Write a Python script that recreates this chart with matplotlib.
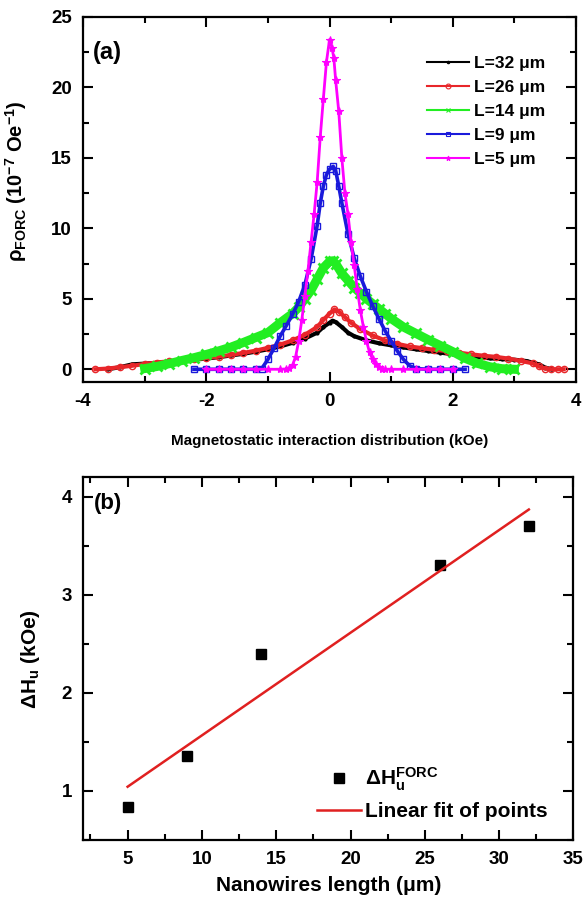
import matplotlib
matplotlib.use("Agg")
import matplotlib.pyplot as plt
import numpy as np
from matplotlib.ticker import MultipleLocator

plt.rcParams['font.family'] = ['Liberation Sans', 'DejaVu Sans']
plt.rcParams['font.weight'] = 'bold'
plt.rcParams['axes.unicode_minus'] = False
plt.rcParams['mathtext.fontset'] = 'custom'
plt.rcParams['mathtext.rm'] = 'Liberation Sans:bold'
plt.rcParams['mathtext.bf'] = 'Liberation Sans:bold'
plt.rcParams['mathtext.it'] = 'Liberation Sans:bold:italic'
plt.rcParams['mathtext.default'] = 'rm'

# ---------------- Panel (a) data ----------------
x32 = [-3.6, -3.4, -3.2, -3.0, -2.8, -2.6, -2.4, -2.2, -2.0, -1.8, -1.6, -1.4, -1.2, -1.0,
       -0.8, -0.6, -0.4, -0.2, -0.1, 0.0, 0.05, 0.1, 0.2, 0.3, 0.4, 0.6, 0.8, 1.0, 1.2, 1.4,
       1.6, 1.8, 2.0, 2.2, 2.4, 2.6, 2.8, 3.0, 3.2, 3.4, 3.5, 3.6]
y32 = [0.0, 0.15, 0.35, 0.4, 0.46, 0.52, 0.6, 0.68, 0.76, 0.86, 0.98, 1.1, 1.25, 1.42,
       1.62, 1.88, 2.18, 2.6, 3.0, 3.3, 3.45, 3.35, 3.0, 2.6, 2.35, 2.05, 1.85, 1.7, 1.55, 1.42,
       1.3, 1.18, 1.07, 0.96, 0.86, 0.78, 0.72, 0.68, 0.58, 0.35, 0.12, 0.0]

x26 = [-3.8, -3.6, -3.4, -3.2, -3.0, -2.8, -2.6, -2.4, -2.2, -2.0, -1.8, -1.6, -1.4, -1.2,
       -1.0, -0.8, -0.6, -0.4, -0.2, -0.1, 0.0, 0.08, 0.15, 0.25, 0.35, 0.5, 0.7, 0.9, 1.1,
       1.3, 1.5, 1.7, 1.9, 2.1, 2.3, 2.5, 2.7, 2.9, 3.1, 3.3, 3.4, 3.5, 3.6, 3.7, 3.8]
y26 = [0.0, 0.05, 0.15, 0.25, 0.38, 0.48, 0.57, 0.65, 0.72, 0.8, 0.9, 1.02, 1.16, 1.32,
       1.52, 1.75, 2.05, 2.45, 3.0, 3.5, 3.95, 4.25, 4.1, 3.7, 3.3, 2.85, 2.4, 2.05, 1.8,
       1.62, 1.5, 1.38, 1.3, 1.18, 1.06, 0.96, 0.88, 0.76, 0.6, 0.42, 0.2, 0.05, 0.0, 0.0, 0.0]

x14 = [-3.0, -2.8, -2.6, -2.4, -2.2, -2.0, -1.8, -1.6, -1.4, -1.2, -1.0, -0.8, -0.6, -0.5,
       -0.4, -0.3, -0.2, -0.1, 0.0, 0.05, 0.1, 0.2, 0.3, 0.4, 0.5, 0.6, 0.7, 0.8, 0.9, 1.0,
       1.2, 1.4, 1.6, 1.8, 2.0, 2.2, 2.4, 2.6, 2.8, 3.0]
y14 = [0.05, 0.2, 0.4, 0.62, 0.82, 1.05, 1.3, 1.57, 1.9, 2.25, 2.6, 3.3, 3.95, 4.4,
       5.0, 5.6, 6.4, 7.2, 7.65, 7.7, 7.5, 6.8, 6.3, 5.8, 5.4, 5.0, 4.65, 4.3, 3.95, 3.6,
       3.0, 2.55, 2.1, 1.68, 1.25, 0.78, 0.42, 0.18, 0.04, 0.0]

x9 = [-2.2, -2.0, -1.8, -1.6, -1.4, -1.2, -1.1, -1.0, -0.9, -0.8, -0.7, -0.6, -0.5, -0.4,
      -0.3, -0.2, -0.15, -0.1, -0.05, 0.0, 0.06, 0.1, 0.15, 0.2, 0.3, 0.4, 0.5, 0.6, 0.7,
      0.8, 0.9, 1.0, 1.1, 1.2, 1.3, 1.4, 1.6, 1.8, 2.0, 2.2]
y9 = [0.0, 0.0, 0.0, 0.0, 0.0, 0.0, 0.05, 0.7, 1.5, 2.36, 3.1, 3.9, 4.8, 6.0,
      7.8, 10.2, 11.8, 13.0, 13.8, 14.2, 14.4, 14.1, 13.0, 11.8, 9.6, 7.9, 6.6, 5.5, 4.5,
      3.6, 2.75, 2.0, 1.3, 0.7, 0.25, 0.05, 0.0, 0.0, 0.0, 0.0]

x5 = [-2.0, -1.8, -1.6, -1.4, -1.2, -1.0, -0.8, -0.7, -0.65, -0.6, -0.55, -0.5, -0.45,
      -0.4, -0.35, -0.3, -0.25, -0.2, -0.15, -0.1, -0.05, 0.0, 0.04, 0.07, 0.1, 0.15, 0.2,
      0.25, 0.3, 0.35, 0.4, 0.45, 0.5, 0.55, 0.6, 0.65, 0.7, 0.75, 0.8, 0.85, 0.9, 1.0,
      1.2, 1.4, 1.6, 1.8, 2.0]
y5 = [0.0, 0.0, 0.0, 0.0, 0.0, 0.0, 0.0, 0.02, 0.1, 0.3, 0.9, 2.0, 3.5,
      5.2, 7.0, 9.0, 11.0, 13.3, 16.5, 19.2, 21.8, 23.4, 22.8, 22.1, 20.5, 18.3, 15.0,
      12.5, 11.0, 9.0, 7.4, 5.7, 4.2, 3.0, 2.0, 1.2, 0.7, 0.35, 0.15, 0.05, 0.0, 0.0,
      0.0, 0.0, 0.0, 0.0, 0.0]

labels_a = ['L=32 μm', 'L=26 μm', 'L=14 μm', 'L=9 μm', 'L=5 μm']
colors_a = ['#000000', '#e8262a', '#22ee22', '#1a1adb', '#ff00ff']
markers_a = ['.', 'o', 'x', 's', '*']

# ---------------- Panel (b) data ----------------
length_um = [5, 9, 14, 26, 32]
dHu_kOe = [0.84, 1.36, 2.4, 3.3, 3.7]

fig = plt.figure(figsize=(5.88, 9.09), dpi=100)
ax1 = fig.add_axes([0.1412, 0.5798, 0.8384, 0.4015])
ax2 = fig.add_axes([0.1412, 0.0759, 0.8340, 0.3993])

series = [(x32, y32), (x26, y26), (x14, y14), (x9, y9), (x5, y5)]
styles = [dict(lw=3.0, ms=4, mew=1.0),
          dict(lw=3.0, ms=4.5, mew=1.0, mfc='none'),
          dict(lw=6.5, ms=7, mew=2.0),
          dict(lw=2.6, ms=4.5, mew=1.0, mfc='none'),
          dict(lw=2.0, ms=6, mew=0.8)]
for (xs, ys), lab, c, m, st in zip(series, labels_a, colors_a, markers_a, styles):
    ax1.plot(xs, ys, color=c, marker=m, label=lab, **st)

ax1.set_xlim(-4, 4)
ax1.set_ylim(-0.9, 25)
ax1.xaxis.set_major_locator(MultipleLocator(2))
ax1.xaxis.set_minor_locator(MultipleLocator(1))
ax1.yaxis.set_major_locator(MultipleLocator(5))
ax1.yaxis.set_minor_locator(MultipleLocator(2.5))
ax1.set_xlabel('Magnetostatic interaction distribution (kOe)', fontsize=11, fontweight='bold', labelpad=17)
ax1.set_ylabel('ρ$_{\\mathrm{FORC}}$ (10$^{\\mathrm{-7}}$ Oe$^{\\mathrm{-1}}$)', fontsize=14.5, fontweight='bold', labelpad=8)
ax1.yaxis.set_label_coords(-0.11, 0.55)
ax1.text(0.02, 0.935, '(a)', transform=ax1.transAxes, fontsize=17, fontweight='bold', va='top', ha='left')

leg1 = ax1.legend(loc='upper right', bbox_to_anchor=(0.97, 0.935), frameon=False, fontsize=12.5,
                  handlelength=2.4, handletextpad=0.3, labelspacing=0.5, numpoints=1)
for h in leg1.get_lines():
    h.set_linewidth(1.5)
    h.set_markersize(3.5)
    h.set_markeredgewidth(0.8)

# panel b
ax2.plot(length_um, dHu_kOe, ls='none', marker='s', ms=6.5, color='black',
         label='$\\Delta$H$_{\\mathrm{u}}^{\\mathrm{FORC}}$')
coef = np.polyfit(length_um, dHu_kOe, 1)
xfit = np.array([min(length_um), max(length_um)])
ax2.plot(xfit, np.polyval(coef, xfit), color='#e02020', lw=1.8, label='Linear fit of points')
ax2.set_xlim(2, 35)
ax2.set_ylim(0.5, 4.2)
ax2.xaxis.set_major_locator(MultipleLocator(5))
ax2.xaxis.set_minor_locator(MultipleLocator(2.5))
ax2.yaxis.set_major_locator(MultipleLocator(1))
ax2.yaxis.set_minor_locator(MultipleLocator(0.5))
ax2.set_xlabel('Nanowires length (μm)', fontsize=15, fontweight='bold', labelpad=6)
ax2.set_ylabel('$\\Delta$H$_{\\mathrm{u}}$ (kOe)', fontsize=15, fontweight='bold', labelpad=14)
ax2.text(0.022, 0.955, '(b)', transform=ax2.transAxes, fontsize=16, fontweight='bold', va='top', ha='left')
ax2.legend(loc='lower right', bbox_to_anchor=(0.985, 0.0), frameon=False, fontsize=15,
           handlelength=2.1, handletextpad=0.2, labelspacing=0.45, numpoints=1)

for ax in (ax1, ax2):
    for s in ax.spines.values():
        s.set_linewidth(1.6)
    ax.tick_params(which='both', direction='in', top=True, right=True, width=1.5)
    ax.tick_params(which='major', length=7, labelsize=13.5, pad=8)
    ax.tick_params(which='minor', length=4)
    for t in ax.get_xticklabels() + ax.get_yticklabels():
        t.set_fontweight('bold')

fig.savefig('out.png', dpi=100)
